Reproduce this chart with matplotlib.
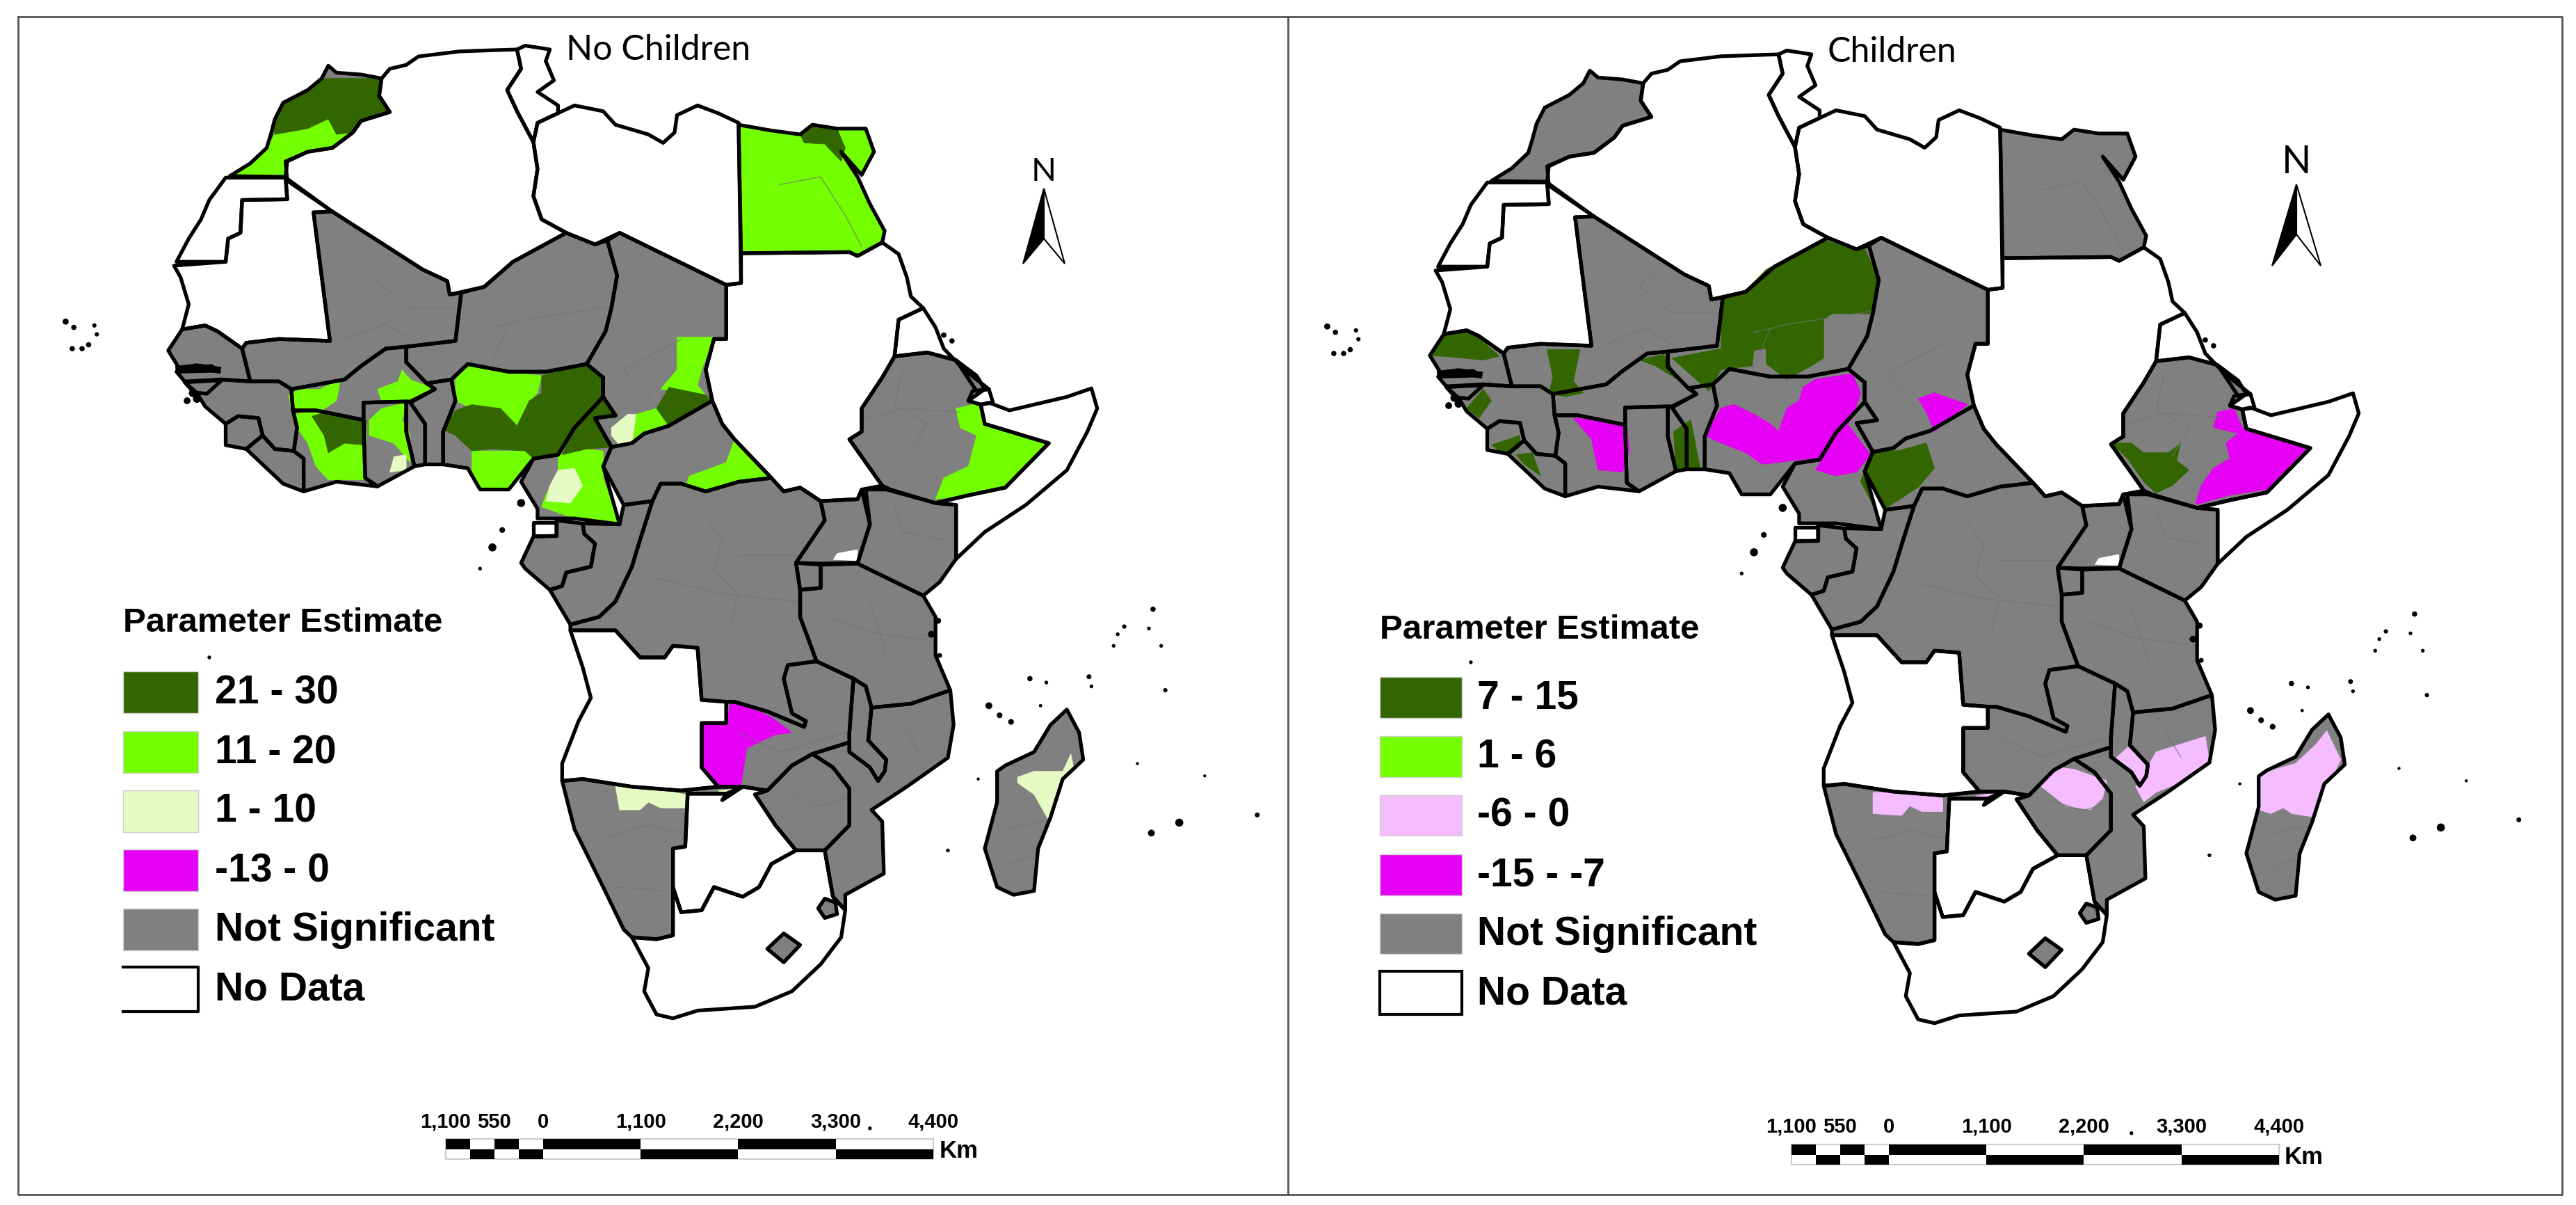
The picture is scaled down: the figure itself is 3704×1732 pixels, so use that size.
import matplotlib
matplotlib.use("Agg")
import matplotlib.pyplot as plt
from matplotlib.patches import Polygon, Rectangle, PathPatch
from matplotlib.path import Path

# map outlines (map units, y down)
morocco = [(400,172),(410,190),(440,195),(465,205),(462,250),(475,292),(440,315),(430,345),(405,385),(375,395),(350,420),(348,460),(280,458),(305,425),(325,385),(330,350),(335,310),(345,268),(375,235),(392,205)]
algeria = [(465,205),(475,180),(495,170),(510,148),(560,135),(600,132),(630,130),(635,180),(618,235),(630,290),(650,370),(655,440),(650,510),(660,570),(690,605),(625,680),(590,745),(548,765),(545,730),(515,700),(405,550),(350,470),(348,420),(375,395),(405,385),(430,345),(440,315),(475,292),(462,250)]
tunisia = [(630,130),(640,120),(670,130),(665,160),(675,210),(655,240),(680,275),(680,295),(655,320),(650,370),(630,290),(618,235),(635,180)]
libya = [(655,320),(680,295),(700,275),(735,290),(750,325),(790,350),(808,372),(822,345),(825,300),(850,275),(875,295),(900,320),(903,735),(885,740),(755,605),(725,635),(690,605),(660,570),(650,510),(655,440),(650,370)]
egypt = [(900,325),(940,340),(975,350),(990,325),(1020,335),(1055,335),(1065,395),(1050,455),(1025,395),(1045,460),(1060,530),(1078,600),(1075,630),(1045,665),(1035,655),(903,658)]
sudan = [(903,658),(1035,655),(1045,665),(1075,630),(1095,660),(1105,720),(1110,770),(1125,800),(1095,830),(1090,925),(1075,980),(1050,1060),(1050,1120),(1035,1140),(1075,1260),(1050,1270),(1045,1295),(1000,1300),(975,1265),(955,1275),(940,1240),(895,1140),(880,1100),(868,1040),(860,960),(870,880),(885,880),(885,740),(903,735)]
eritrea = [(1125,800),(1140,850),(1150,905),(1175,960),(1205,1010),(1190,1015),(1165,935),(1130,915),(1090,925),(1095,830)]
djibouti = [(1185,1015),(1205,1010),(1210,1045),(1195,1050),(1180,1040)]
somalia = [(1205,1045),(1230,1065),(1260,1050),(1300,1030),(1330,1008),(1337,1060),(1325,1120),(1300,1220),(1250,1310),(1200,1380),(1165,1450),(1165,1310),(1140,1305),(1180,1285),(1225,1265),(1278,1150),(1200,1100),(1195,1050)]
ethiopia = [(1090,925),(1130,915),(1165,935),(1190,975),(1200,1010),(1180,1040),(1195,1050),(1200,1100),(1278,1150),(1225,1265),(1180,1285),(1140,1305),(1085,1270),(1075,1260),(1035,1140),(1050,1120),(1050,1060),(1075,980)]
w_sahara = [(275,462),(348,462),(350,518),(295,520),(293,605),(278,620),(275,680),(215,680),(230,620),(245,570),(255,520)]
mauritania = [(348,462),(405,550),(382,552),(402,885),(340,880),(300,890),(295,905),(265,860),(250,845),(222,855),(230,790),(220,720),(212,690),(275,680),(278,620),(293,605),(295,520),(350,518)]
mali = [(382,552),(405,550),(515,700),(545,730),(548,765),(562,760),(555,885),(495,900),(470,905),(440,950),(420,985),(355,1010),(340,990),(305,990),(295,905),(300,890),(340,880),(402,885)]
niger = [(562,760),(590,745),(625,680),(690,605),(725,635),(740,625),(752,715),(745,800),(738,860),(715,945),(665,965),(620,965),(570,945),(550,985),(520,995),(495,940),(495,900),(555,885)]
chad = [(740,625),(755,605),(885,740),(885,880),(870,880),(860,960),(868,1040),(815,1105),(785,1125),(770,1150),(745,1160),(725,1085),(750,1078),(735,1030),(735,980),(715,945),(738,860),(745,800),(752,715)]
nigeria = [(550,985),(570,945),(620,965),(665,965),(715,945),(735,980),(735,1030),(700,1110),(680,1180),(650,1190),(620,1270),(585,1270),(570,1215),(540,1205),(540,1120),(555,1040)]
benin = [(520,995),(550,985),(555,1040),(540,1120),(540,1205),(518,1205),(518,1100),(500,1045),(530,1010)]
togo = [(495,1042),(500,1045),(518,1100),(518,1205),(505,1210),(495,1120)]
ghana = [(443,1045),(495,1042),(495,1120),(505,1210),(460,1262),(445,1240),(443,1090)]
burkina = [(420,985),(440,950),(470,905),(495,900),(495,940),(520,995),(530,1010),(500,1042),(443,1045),(443,1090),(420,1080),(385,1065),(357,1065),(355,1010)]
ivory_coast = [(357,1065),(385,1065),(420,1080),(443,1090),(445,1240),(460,1262),(410,1250),(370,1275),(370,1190),(358,1170),(362,1110)]
guinea = [(225,992),(270,985),(305,990),(340,990),(355,1010),(357,1065),(362,1110),(358,1170),(335,1165),(320,1130),(315,1085),(290,1080),(275,1100),(250,1055),(240,1020)]
sierra_leone = [(275,1100),(290,1080),(315,1085),(320,1130),(300,1165),(275,1155)]
liberia = [(300,1165),(320,1130),(335,1165),(358,1170),(370,1190),(370,1275),(345,1255)]
senegal = [(222,855),(250,845),(265,860),(295,905),(305,990),(270,985),(225,990),(215,965),(265,962),(258,950),(218,955),(205,910)]
guinea_bissau = [(225,992),(270,987),(252,1022),(236,1018)]
cameroon = [(735,980),(735,1030),(750,1078),(725,1085),(745,1160),(735,1210),(755,1360),(700,1345),(655,1345),(655,1320),(635,1250),(650,1190),(680,1180),(700,1110),(735,1030)]
car = [(745,1160),(770,1150),(785,1125),(815,1105),(868,1040),(880,1100),(895,1140),(940,1240),(900,1250),(860,1275),(830,1255),(805,1255),(795,1300),(760,1310),(735,1210)]
eq_guinea = [(650,1355),(678,1355),(678,1390),(650,1390)]
gabon = [(650,1392),(678,1390),(678,1350),(710,1358),(712,1385),(725,1410),(720,1470),(690,1485),(685,1520),(670,1530),(640,1475),(635,1460)]
congo = [(710,1358),(755,1360),(760,1310),(795,1300),(780,1400),(770,1470),(750,1560),(730,1600),(695,1620),(670,1530),(685,1520),(690,1485),(720,1470),(725,1410),(712,1385)]
drc = [(795,1300),(805,1255),(830,1255),(860,1275),(900,1250),(940,1240),(955,1275),(975,1265),(1000,1300),(1005,1350),(970,1460),(975,1530),(975,1600),(995,1715),(960,1725),(955,1760),(965,1850),(982,1870),(980,1885),(935,1845),(895,1820),(885,1820),(855,1815),(850,1680),(820,1675),(810,1705),(780,1705),(750,1635),(695,1635),(695,1620),(730,1600),(750,1560),(770,1470),(780,1400)]
angola = [(695,1635),(750,1635),(780,1705),(810,1705),(820,1675),(850,1680),(855,1815),(885,1820),(885,1875),(855,1875),(855,1990),(875,2040),(830,2050),(770,2040),(710,2020),(685,2025),(685,1980),(705,1870),(720,1810),(710,1730)]
zambia = [(885,1820),(895,1820),(935,1845),(980,1885),(982,1870),(965,1850),(955,1760),(960,1725),(995,1715),(1040,1760),(1035,1900),(1035,1925),(990,1955),(965,1985),(935,2050),(905,2040),(875,2040),(855,1990),(855,1875),(885,1875)]
uganda = [(1000,1300),(1045,1295),(1050,1270),(1060,1360),(1045,1460),(1000,1462),(970,1460),(1005,1350)]
kenya = [(1055,1270),(1080,1270),(1140,1305),(1165,1310),(1165,1450),(1145,1510),(1125,1545),(1045,1462),(1060,1360)]
rwanda_burundi = [(970,1460),(1000,1465),(1000,1525),(975,1530)]
tanzania = [(1000,1465),(1045,1462),(1125,1545),(1140,1600),(1140,1700),(1158,1790),(1110,1825),(1062,1835),(1055,1780),(1040,1760),(995,1715),(975,1600),(975,1530),(1000,1525)]
malawi = [(1040,1760),(1055,1780),(1062,1835),(1058,1920),(1080,1970),(1078,2000),(1070,2025),(1060,1990),(1035,1950),(1035,1900)]
mozambique = [(1062,1835),(1110,1825),(1158,1790),(1162,1880),(1155,1965),(1105,2040),(1062,2100),(1075,2130),(1077,2265),(1030,2320),(1030,2360),(1015,2325),(1005,2205),(1035,2140),(1035,2045),(1015,1990),(990,1955),(1035,1925),(1035,1950),(1060,1990),(1070,2025),(1078,2000),(1080,1970),(1058,1920)]
zimbabwe = [(935,2050),(965,1985),(990,1955),(1015,1990),(1035,2045),(1035,2140),(1005,2205),(970,2205),(945,2140),(920,2060)]
namibia = [(685,2025),(710,2020),(770,2040),(830,2050),(875,2040),(905,2040),(885,2058),(838,2058),(835,2195),(820,2200),(820,2425),(800,2435),(770,2430),(760,2410),(735,2300),(700,2150)]
botswana = [(838,2058),(885,2058),(880,2075),(905,2040),(935,2050),(920,2060),(945,2140),(970,2205),(940,2240),(925,2300),(905,2325),(870,2300),(855,2360),(830,2365),(820,2300),(820,2200),(835,2195)]
south_africa = [(770,2430),(800,2435),(820,2425),(820,2300),(830,2365),(855,2360),(870,2300),(905,2325),(925,2300),(940,2240),(970,2205),(1005,2205),(1015,2325),(1030,2360),(1025,2430),(1000,2500),(965,2570),(920,2610),(850,2620),(820,2640),(800,2630),(785,2570),(790,2510)]
lesotho = [(955,2420),(975,2450),(955,2495),(935,2460)]
swaziland = [(1005,2330),(1018,2340),(1020,2370),(1005,2380),(997,2355)]
madagascar = [(1300,1840),(1315,1900),(1320,1970),(1295,2020),(1280,2120),(1265,2200),(1260,2310),(1235,2320),(1215,2300),(1200,2200),(1215,2080),(1215,2000),(1225,1985),(1260,1950),(1280,1880)]
lake_victoria = [(1015,1452),(1020,1435),(1045,1425),(1045,1455)]

no_data = [algeria, tunisia, libya, sudan, eritrea, djibouti, somalia, w_sahara, mauritania, eq_guinea, guinea_bissau, angola, botswana, south_africa, lake_victoria]
not_significant = [morocco, egypt, ethiopia, mali, niger, chad, nigeria, benin, togo, ghana, burkina, ivory_coast, guinea, sierra_leone, liberia, senegal, cameroon, car, gabon, congo, drc, zambia, uganda, kenya, rwanda_burundi, tanzania, malawi, mozambique, zimbabwe, namibia, lesotho, swaziland, madagascar]

# significant regions, no children
nc_dark = [
    [(390,205),(465,205),(462,250),(475,292),(440,315),(430,345),(410,350),(400,310),(375,335),(335,350),(330,310),(345,268),(375,235)],
    [(975,350),(990,325),(1020,335),(1030,385),(1025,420),(1005,375),(980,372)],
    [(380,1080),(400,1068),(420,1080),(447,1090),(445,1155),(420,1150),(400,1175),(395,1130)],
    [(660,975),(715,945),(735,980),(735,1030),(700,1110),(680,1180),(650,1190),(640,1170),(600,1165),(575,1170),(555,1130),(540,1115),(555,1065),(575,1050),(610,1060),(630,1105),(645,1040),(660,1020)],
    [(720,1010),(735,1000),(735,1030),(750,1085),(725,1085),(748,1160),(715,1165),(685,1180),(700,1110)],
    [(815,1005),(860,1025),(868,1040),(815,1105),(800,1060)],
]
nc_bright = [
    [(335,350),(375,335),(400,310),(410,350),(430,345),(405,385),(375,395),(350,420),(348,460),(280,458),(305,425),(325,385)],
    [(900,325),(975,350),(980,372),(1005,375),(1025,420),(1020,335),(1055,335),(1065,395),(1050,455),(1078,600),(1075,630),(1045,665),(1035,655),(903,658)],
    [(365,1010),(390,1010),(415,985),(410,1040),(392,1065),(355,1065),(352,1025)],
    [(490,960),(500,985),(530,1010),(500,1040),(465,1040),(460,1010),(485,990)],
    [(360,1075),(385,1065),(420,1080),(447,1090),(445,1245),(400,1245),(385,1210),(375,1150),(362,1110)],
    [(465,1060),(495,1045),(490,1090),(500,1130),(500,1200),(480,1150),(450,1130),(450,1090)],
    [(555,985),(570,945),(610,965),(660,975),(655,1020),(650,1030),(630,1105),(610,1060),(575,1060),(555,1040)],
    [(575,1170),(640,1170),(650,1190),(620,1270),(585,1270),(575,1220)],
    [(680,1180),(715,1165),(735,1170),(735,1240),(755,1360),(700,1345),(660,1315),(665,1285),(680,1220)],
    [(825,875),(870,875),(855,960),(850,1000),(860,1025),(805,1010),(825,960)],
    [(775,1075),(800,1060),(815,1105),(785,1125),(770,1155),(750,1160),(770,1125)],
    [(895,1140),(940,1240),(900,1250),(860,1275),(835,1265),(840,1235),(885,1200)],
    [(1165,1060),(1195,1045),(1200,1100),(1278,1150),(1225,1265),(1180,1285),(1140,1295),(1150,1240),(1180,1210),(1190,1130),(1170,1110)],
]
nc_pale = [
    [(480,1185),(495,1180),(495,1220),(475,1225)],
    [(680,1220),(700,1215),(710,1260),(695,1305),(665,1300),(670,1260)],
    [(745,1110),(765,1075),(775,1075),(770,1155),(755,1155),(745,1130)],
    [(750,2040),(790,2040),(835,2060),(835,2095),(805,2095),(790,2080),(780,2100),(755,2100)],
    [(875,2050),(900,2045),(885,2065)],
    [(1305,1955),(1310,2010),(1300,2060),(1280,2135),(1260,2060),(1240,2030),(1240,2015),(1260,2000),(1295,2000)],
]
nc_magenta = [
    [(890,1825),(905,1825),(940,1860),(965,1900),(945,1905),(910,1940),(903,2035),(875,2035),(855,1990),(855,1880),(885,1875)],
]

# significant regions, children
ch_dark = [
    [(685,609),(720,637),(735,632),(752,717),(742,802),(695,802),(685,817),(685,917),(670,937),(640,972),(615,932),(615,892),(600,897),(598,937),(560,947),(545,1002),(500,917),(560,892),(560,762),(585,752),(615,687)],
    [(220,852),(255,847),(290,912),(270,922),(220,912),(208,912)],
    [(348,895),(388,895),(380,977),(392,1007),(370,1017),(350,1007),(355,967)],
    [(460,922),(490,907),(510,977),(480,937)],
    [(270,997),(280,1027),(265,1072),(250,1047)],
    [(280,1142),(315,1117),(315,1147),(300,1172)],
    [(310,1167),(330,1162),(340,1222),(320,1192)],
    [(502,1107),(523,1077),(535,1207),(505,1207)],
    [(810,1137),(820,1202),(800,1252),(760,1307),(752,1327),(730,1237),(742,1157),(775,1157)],
    [(1035,1137),(1060,1137),(1075,1162),(1105,1162),(1120,1137),(1115,1182),(1130,1207),(1110,1247),(1090,1267),(1075,1237),(1055,1177)],
]
ch_pink = [
    [(745,2042),(790,2042),(830,2057),(830,2092),(805,2092),(790,2077),(780,2102),(745,2097)],
    [(870,2052),(895,2042),(880,2062)],
    [(970,1977),(990,1982),(1030,2012),(1025,2057),(1010,2087),(980,2077),(950,2027),(950,2017)],
    [(1058,1920),(1080,1970),(1078,2000),(1070,2025),(1060,1990),(1040,1955)],
    [(1150,1897),(1155,1962),(1130,2007),(1090,2042),(1075,2067),(1065,2027),(1082,1967),(1090,1937)],
    [(1298,1882),(1315,1957),(1300,2027),(1285,2107),(1255,2097),(1245,2082),(1230,2097),(1215,2087),(1210,1997),(1260,1967),(1285,1917)],
]
ch_magenta = [
    [(380,1072),(445,1087),(448,1157),(440,1212),(410,1207),(402,1127)],
    [(720,957),(730,1007),(720,1072),(680,1182),(670,1177),(610,1192),(590,1162),(560,1137),(540,1117),(560,1047),(575,1037),(600,1062),(620,1087),(630,1107),(640,1047),(655,1027),(660,992),(675,972)],
    [(710,1077),(742,1167),(725,1212),(700,1222),(675,1207),(695,1137)],
    [(800,1022),(820,1007),(860,1037),(820,1107),(810,1057)],
    [(1165,1057),(1185,1047),(1195,1097),(1275,1147),(1225,1257),(1180,1272),(1138,1297),(1145,1247),(1160,1202),(1180,1177),(1175,1137),(1190,1112),(1160,1097)],
]

# faint district lines inside the grey countries
admin_lines = [
    [(480,690),(460,730),(500,800),(555,800)],
    [(420,880),(470,840),(500,880)],
    [(600,850),(640,830),(745,795)],
    [(620,840),(600,940)],
    [(800,1050),(760,960),(830,880)],
    [(1100,960),(1090,1050),(1130,1100),(1110,1170)],
    [(1050,1090),(1100,1060),(1170,1070)],
    [(860,1340),(880,1400),(870,1480),(900,1540),(890,1620)],
    [(900,1440),(970,1440)],
    [(800,1500),(880,1540),(970,1560)],
    [(1090,1310),(1100,1380),(1150,1400)],
    [(1010,1600),(1060,1640),(1130,1660)],
    [(1060,1560),(1080,1700)],
    [(900,1900),(950,1950),(1030,1900)],
    [(740,2170),(790,2140),(830,2160)],
    [(750,2300),(815,2310)],
    [(960,2060),(1000,2090),(1030,2070)],
    [(1100,1880),(1120,1950)],
    [(1225,2150),(1270,2130)],
    [(1230,2240),(1265,2210)],
    [(950,480),(1000,460),(1030,560),(1050,640)],
]

gambia_band = [(218,958),(240,952),(265,960)]

island_x = [80,90,115,118,88,100,108,635,612,600,585,1150,1160,1143,1135,1145,1405,1370,1362,1400,1357,1415,1255,1275,1327,1330,1420,1205,1218,1232,1268,1403,1437,1532,1155,1192,1386,1468,235,240,228,255,1060]
island_y = [835,850,845,868,905,905,895,1305,1375,1420,1475,870,885,1610,1645,1700,1580,1625,1645,1630,1675,1675,1760,1770,1755,1780,1790,1830,1855,1872,1830,2160,2133,2113,2205,2020,1980,2012,1020,1035,1040,1705,2925]
island_s = [40,30,20,20,30,30,30,70,35,70,15,30,30,40,50,25,30,20,15,15,15,15,30,15,25,15,20,50,35,35,12,50,70,25,15,10,10,10,70,70,50,15,15]

legend_title = "Parameter Estimate"
labels_nc = ["21 - 30", "11 - 20", "1 - 10", "-13 - 0", "Not Significant", "No Data"]
labels_ch = ["7 - 15", "1 - 6", "-6 - 0", "-15 - -7", "Not Significant", "No Data"]
colors_nc = ["#336600", "#73FF00", "#E6FAC4", "#E600F5", "#808080", "white"]
colors_ch = ["#336600", "#73FF00", "#F5BDFF", "#E600F5", "#808080", "white"]

km_ticks = [-1100, -550, 0, 1100, 2200, 3300, 4400]
km_labels = ["1,100", "550", "0", "1,100", "2,200", "3,300", "4,400"]
km_edges = [-1100, -825, -550, -275, 0, 1100, 2200, 3300, 4400]

DARK, BRIGHT, GREY = "#336600", "#73FF00", "#808080"
MAGENTA, PALE, PINK = "#E600F5", "#E6FAC4", "#F5BDFF"
MAP_W, MAP_H = 3705 / 1.18, 1733 / 0.5548
SANS = "Liberation Sans"

land = Path.make_compound_path(*[Path(p + [p[0]], closed=False) for p in not_significant + no_data])


def draw_map(ax, groups):
    for p in no_data:
        ax.add_patch(Polygon(p, closed=True, fc="white", ec="none", zorder=2))
    for p in not_significant:
        ax.add_patch(Polygon(p, closed=True, fc=GREY, ec="none", zorder=2))
    clip = PathPatch(land, fc="none", ec="none", transform=ax.transData)
    ax.add_patch(clip)
    for polys, color in groups:
        for p in polys:
            patch = Polygon(p, closed=True, fc=color, ec=color, lw=0.5, zorder=3)
            ax.add_patch(patch)
            patch.set_clip_path(clip)
    for line in admin_lines:
        xs, ys = zip(*line)
        ax.plot(xs, ys, color="#737373", lw=1.0, alpha=0.7, zorder=4)
    ax.add_patch(Polygon(lake_victoria, closed=True, fc="white", ec="none", zorder=4))
    for p in no_data + not_significant:
        if p is lake_victoria:
            continue
        ax.add_patch(Polygon(p, closed=True, fc="none", ec="black", lw=3.8, joinstyle="round", zorder=5))
    xs, ys = zip(*gambia_band)
    ax.plot(xs, ys, color="black", lw=7, zorder=6)
    ax.scatter(island_x, island_y, s=island_s, c="black", lw=0, zorder=6)


def draw_legend(ax, x0, x1, tops, bottoms, tx, title_y, labels, colors, open_left=False):
    ax.text(x0, title_y, legend_title, family=SANS, weight="bold", fontsize=35.5, va="center", ha="left")
    for top, bottom, label, color in zip(tops, bottoms, labels, colors):
        if color == "white" and open_left:
            ax.plot([x0, x1, x1, x0], [top, top, bottom, bottom], color="black", lw=3)
        elif color == "white":
            ax.add_patch(Rectangle((x0, top), x1 - x0, bottom - top, fc="white", ec="black", lw=3))
        else:
            ax.add_patch(Rectangle((x0, top), x1 - x0, bottom - top, fc=color, ec="#cfcfcf", lw=1))
        ax.text(tx, (top + bottom) / 2, label, family=SANS, weight="bold", fontsize=41, va="center", ha="left")


def draw_scale(ax, x_zero, y_top, label_y, km_x, km_y):
    per_km = 0.1275
    row = 14.5
    ax.add_patch(Rectangle((x_zero - 1100 * per_km, y_top), 5500 * per_km, 2 * row, fc="white", ec="#cccccc", lw=1.5))
    for i, (a, b) in enumerate(zip(km_edges[:-1], km_edges[1:])):
        y = y_top if i % 2 == 0 else y_top + row
        ax.add_patch(Rectangle((x_zero + a * per_km, y), (b - a) * per_km, row, fc="black", ec="none"))
    for km, lab in zip(km_ticks, km_labels):
        ax.text(x_zero + km * per_km, label_y, lab, family=SANS, weight="bold", fontsize=21, ha="center", va="center")
    ax.text(km_x, km_y, "Km", family=SANS, weight="bold", fontsize=25, ha="left", va="center")


def draw_north(ax, cx, half, y_apex, y_notch, y_base, n_y, n_size):
    ax.add_patch(Polygon([(cx, y_apex), (cx + half, y_base), (cx, y_notch)], closed=True, fc="white", ec="black", lw=1.5))
    ax.add_patch(Polygon([(cx, y_apex), (cx - half, y_base), (cx, y_notch)], closed=True, fc="black", ec="black", lw=1.5))
    ax.text(cx, n_y, "N", family="Lato", fontsize=n_size, ha="center", va="center")


fig = plt.figure(figsize=(37.05, 17.33), dpi=100)

page = fig.add_axes([0, 0, 1, 1], zorder=3)
page.set_xlim(0, 3705)
page.set_ylim(1733, 0)
page.axis("off")
page.patch.set_alpha(0)

left_map = fig.add_axes([0, 0, 1, 1], zorder=1)
left_map.set_xlim(0, MAP_W)
left_map.set_ylim(MAP_H, 0)
left_map.axis("off")
draw_map(left_map, [(nc_bright, BRIGHT), (nc_dark, DARK), (nc_pale, PALE), (nc_magenta, MAGENTA)])

shift_x, shift_y = 1814 / 1.18, 7 / 0.5548
right_map = fig.add_axes([0, 0, 1, 1], zorder=2)
right_map.set_xlim(-shift_x, MAP_W - shift_x)
right_map.set_ylim(MAP_H - shift_y, -shift_y)
right_map.axis("off")
right_map.patch.set_alpha(0)
draw_map(right_map, [(ch_pink, PINK), (ch_dark, DARK), (ch_magenta, MAGENTA)])

# panel frames
frame = "#555555"
page.plot([26, 3684, 3684, 26, 26], [25, 25, 1718, 1718, 25], color=frame, lw=2)
page.plot([1852, 1852], [25, 1718], color=frame, lw=2)

page.text(814, 72, "No Children", family="Lato", fontsize=36, ha="left", va="center")
page.text(2628, 75, "Children", family="Lato", fontsize=36, ha="left", va="center")

draw_legend(page, 177, 285, [966, 1052, 1137, 1222, 1307, 1391], [1026, 1112, 1197, 1282, 1367, 1455], 309, 896, labels_nc, colors_nc, open_left=True)
draw_legend(page, 1984, 2102, [974, 1059, 1144, 1229, 1314, 1397], [1033, 1118, 1202, 1288, 1372, 1459], 2124, 905, labels_ch, colors_ch)

draw_scale(page, 781, 1638, 1613, 1351, 1655)
draw_scale(page, 2716, 1646, 1620, 3285, 1664)

draw_north(page, 1501, 30, 272, 344, 380, 247, 34)
draw_north(page, 3302, 35, 266, 338, 383, 233, 40)

fig.savefig("out.png", dpi=100)
